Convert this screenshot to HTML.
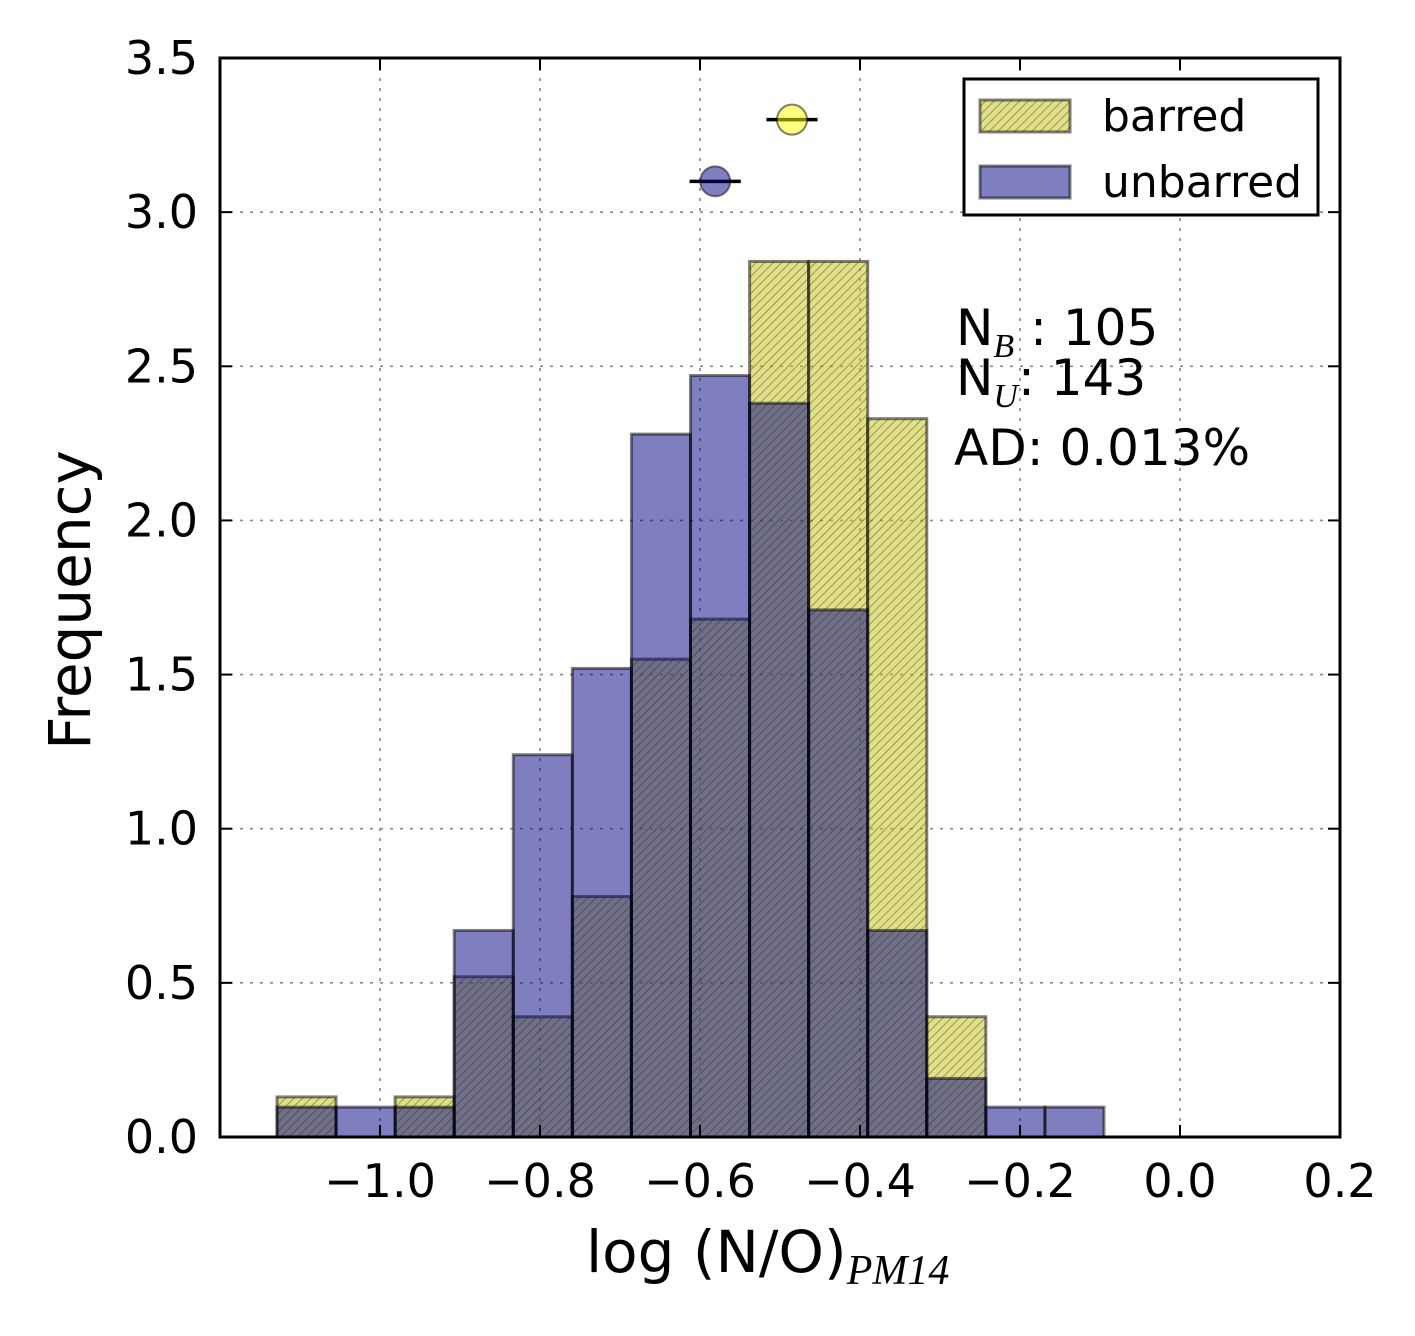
<!DOCTYPE html>
<html><head><meta charset="utf-8"><style>
html,body{margin:0;padding:0;background:#fff;}
text{font-family:"DejaVu Sans","Liberation Sans",sans-serif;}
</style></head><body>
<svg id="chart" width="1415" height="1331" xmlns="http://www.w3.org/2000/svg">
<defs>
<pattern id="hatch" patternUnits="userSpaceOnUse" width="6" height="6" patternTransform="rotate(45)">
<line x1="0" y1="0" x2="0" y2="6" stroke="#000" stroke-width="1.4" stroke-opacity="0.45"/>
</pattern>
</defs>
<g id="grid"></g>
<g id="bars"></g>
<g id="axes"></g>
</svg>
<script>
const binStart = -1.12875;
const binWidth = 0.073839;
const barred = [0.13, 0, 0.13, 0.52, 0.39, 0.78, 1.55, 1.68, 2.84, 2.84, 2.33, 0.39, 0, 0];
const unbarred = [0.097, 0.097, 0.097, 0.67, 1.24, 1.52, 2.28, 2.47, 2.38, 1.71, 0.67, 0.19, 0.097, 0.097];
const xTicks = [-1.0, -0.8, -0.6, -0.4, -0.2, 0.0, 0.2];
const xTickLabels = ["\u22121.0", "\u22120.8", "\u22120.6", "\u22120.4", "\u22120.2", "0.0", "0.2"];
const yTicks = [0, 0.5, 1.0, 1.5, 2.0, 2.5, 3.0, 3.5];
const yTickLabels = ["0.0", "0.5", "1.0", "1.5", "2.0", "2.5", "3.0", "3.5"];
const meanBarred = [-0.485, 3.3, 0.032];
const meanUnbarred = [-0.581, 3.1, 0.032];

const L=220,R=1340,T=58,B=1137;
const xs=v=>L+(v+1.2)/1.4*(R-L);
const ys=v=>B-v/3.5*(B-T);
const NS="http://www.w3.org/2000/svg";
function mk(tag,attrs,parent){const e=document.createElementNS(NS,tag);for(const k in attrs)e.setAttribute(k,attrs[k]);parent.appendChild(e);return e;}
const grid=document.getElementById('grid'),bars=document.getElementById('bars'),axes=document.getElementById('axes');

xTicks.forEach((t,i)=>{
  const x=xs(t);
  if(t>-1.2&&t<0.2){
    const g=mk('line',{x1:x,x2:x,y1:T,y2:B,stroke:'#888','stroke-width':1.6,'stroke-dasharray':'3,7'},grid);
    
    
  }
  const tx=mk('text',{x:x,y:1197,'font-size':46,'text-anchor':'middle',fill:'#000'},axes);
  tx.textContent=xTickLabels[i];
  
  
  mk('line',{x1:x,x2:x,y1:B,y2:B-12,stroke:'#000','stroke-width':2},axes);
  mk('line',{x1:x,x2:x,y1:T,y2:T+12,stroke:'#000','stroke-width':2},axes);
});
yTicks.forEach((t,i)=>{
  const y=ys(t);
  if(t>0&&t<3.5){
    const g=mk('line',{x1:L,x2:R,y1:y,y2:y,stroke:'#888','stroke-width':1.6,'stroke-dasharray':'3,7'},grid);
    
    
  }
  const tx=mk('text',{x:198,y:y+16,'font-size':46,'text-anchor':'end',fill:'#000'},axes);
  tx.textContent=yTickLabels[i];
  
  
  mk('line',{x1:L,x2:L+12,y1:y,y2:y,stroke:'#000','stroke-width':2},axes);
  mk('line',{x1:R,x2:R-12,y1:y,y2:y,stroke:'#000','stroke-width':2},axes);
});

barred.forEach((v,i)=>{
  if(v<=0)return;
  const x0=xs(binStart+i*binWidth),x1=xs(binStart+(i+1)*binWidth),y=ys(v);
  const r=mk('rect',{x:x0,y:y,width:x1-x0,height:B-y,fill:'#c4bf10','fill-opacity':0.5},bars);
  
  
  mk('rect',{x:x0,y:y,width:x1-x0,height:B-y,fill:'url(#hatch)',stroke:'#000','stroke-opacity':0.5,'stroke-width':3},bars);
});
unbarred.forEach((v,i)=>{
  const x0=xs(binStart+i*binWidth),x1=xs(binStart+(i+1)*binWidth),y=ys(v);
  const r=mk('rect',{x:x0,y:y,width:x1-x0,height:B-y,fill:'#000080','fill-opacity':0.5,stroke:'#000','stroke-opacity':0.5,'stroke-width':3},bars);
  
  
});

[[meanBarred,'#ffff00','mean-barred-marker'],[meanUnbarred,'#000080','mean-unbarred-marker']].forEach(([m,c,n])=>{
  const cx=xs(m[0]),cy=ys(m[1]);
  mk('line',{x1:xs(m[0]-m[2]),x2:xs(m[0]+m[2]),y1:cy,y2:cy,stroke:'#000','stroke-width':3.5},bars);
  const c1=mk('circle',{cx:cx,cy:cy,r:15,fill:c,'fill-opacity':0.5,stroke:'#000','stroke-opacity':0.5,'stroke-width':2},bars);
  
  
});

const frame=mk('rect',{x:L,y:T,width:R-L,height:B-T,fill:'none',stroke:'#000','stroke-width':3},axes);


</script>
<svg style="position:absolute;left:0;top:0" width="1415" height="1331" xmlns="http://www.w3.org/2000/svg">
<g>
<rect x="964" y="79" width="354" height="136" fill="#fff" stroke="#000" stroke-width="3"/>
<rect x="980" y="100" width="90" height="32" fill="#c4bf10" fill-opacity="0.5"/>
<rect x="980" y="100" width="90" height="32" fill="url(#hatch)" stroke="#000" stroke-opacity="0.5" stroke-width="3"/>
<text x="1102" y="131" font-size="44">barred</text>
<rect x="980" y="166" width="90" height="32" fill="#000080" fill-opacity="0.5" stroke="#000" stroke-opacity="0.5" stroke-width="3"/>
<text x="1102" y="197" font-size="44">unbarred</text>
</g>
<g font-size="50">
<text x="956" y="345">N<tspan font-family="Liberation Serif" font-style="italic" font-size="34" dy="12">B</tspan><tspan dy="-12"> : 105</tspan></text>
<text x="956" y="395">N<tspan font-family="Liberation Serif" font-style="italic" font-size="34" dy="12">U</tspan><tspan dy="-12">: 143</tspan></text>
<text x="954" y="465">AD: 0.013%</text>
</g>
<text x="586" y="1272" font-size="58">log (N/O)<tspan font-family="Liberation Serif" font-style="italic" font-size="42" dy="12">PM14</tspan></text>
<text transform="translate(90,600) rotate(-90)" font-size="58" text-anchor="middle">Frequency</text>
</svg>
</body></html>
